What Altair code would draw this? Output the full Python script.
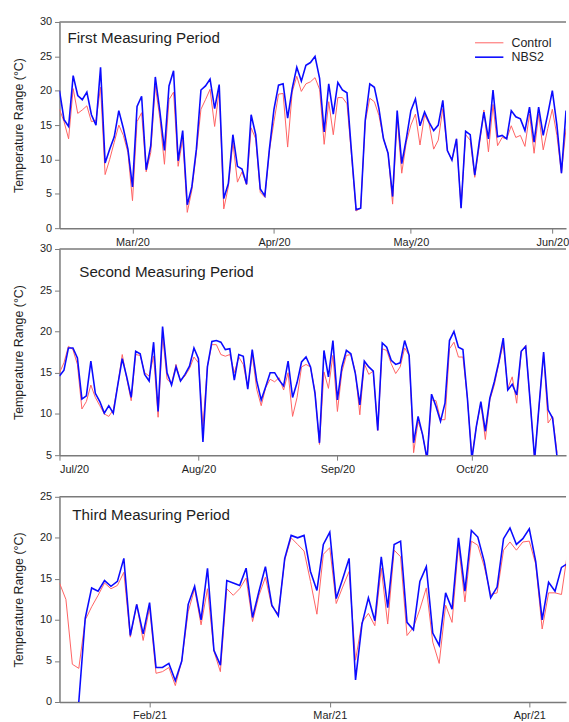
import altair as alt
import pandas as pd

SERIES = ["Control", "NBS2"]
SERIES_COLORS = ["#ff6262", "#0b0bff"]
SERIES_WIDTHS = [1.0, 1.6]

FONT = "Liberation Sans"
TEXT = "#1e1e1e"
FRAME = "#7a7a7a"
PLOT_W = 511

# First measuring period: daily temperature range from 14 Feb 2020
first_start = "2020-02-14"
first_control = [
    17.3, 15.5, 13.0, 20.3, 16.7, 17.2, 17.8, 15.5, 15.7, 20.5,
    7.8, 10.0, 12.5, 15.0, 13.5, 11.0, 4.0, 15.5, 16.8, 8.2,
    11.0, 20.7, 16.0, 9.3, 18.7, 19.8, 9.0, 13.0, 2.3, 5.5,
    11.0, 17.3, 18.7, 20.2, 14.8, 20.0, 2.8, 6.0, 12.5, 6.7,
    8.2, 6.3, 14.6, 13.0, 5.2, 4.5, 11.3, 15.5, 19.5, 19.6,
    11.8, 19.8, 22.1, 19.9, 21.0, 21.3, 21.9, 20.2, 12.2, 18.4,
    13.6, 19.0, 19.0, 18.1, 10.5, 2.5, 2.9, 15.4, 18.9, 18.4,
    16.4, 13.0, 10.9, 3.5, 16.0, 8.0, 12.5, 15.0, 16.6, 12.1,
    16.5, 15.2, 11.5, 12.8, 17.4, 11.3, 9.9, 13.0, 3.0, 13.6,
    12.8, 7.4, 12.0, 17.2, 11.1, 18.0, 12.0, 13.2, 13.0, 14.9,
    13.2, 13.5, 11.9, 16.6, 10.9, 16.6, 11.4, 14.5, 17.3, 13.5,
    8.0, 14.5,
]
first_nbs2 = [
    20.0, 15.8, 14.8, 22.2, 19.3, 18.7, 19.8, 16.5, 15.0, 23.4,
    9.5, 11.5, 13.3, 17.1, 14.5, 11.5, 6.0, 17.7, 19.2, 8.5,
    12.0, 22.0, 17.0, 11.3, 20.7, 22.9, 9.8, 14.2, 3.4, 6.0,
    11.5, 20.1, 20.7, 21.7, 17.4, 20.9, 4.3, 6.5, 13.6, 9.0,
    8.6, 6.4, 16.5, 13.6, 5.7, 4.7, 11.5, 17.3, 20.8, 21.0,
    16.0, 20.3, 23.4, 21.4, 23.7, 24.1, 25.0, 21.8, 14.0, 21.0,
    16.6, 21.2, 20.1, 19.7, 11.0, 2.7, 2.9, 15.7, 21.0, 20.5,
    17.4, 13.0, 10.9, 4.6, 17.1, 9.4, 13.0, 17.1, 18.8, 14.9,
    16.9, 15.4, 14.2, 15.0, 18.6, 11.3, 9.9, 13.0, 2.9, 14.1,
    13.6, 7.7, 12.6, 16.9, 13.0, 20.1, 13.3, 13.5, 13.0, 17.1,
    16.2, 15.9, 14.2, 17.6, 12.5, 17.6, 13.5, 16.6, 20.0, 15.0,
    8.0, 17.1,
]
first_ticks = ["2020-03-01", "2020-04-01", "2020-05-01", "2020-06-01"]
first_domain = ["2020-02-14", "2020-06-04"]

# Second measuring period: daily from 1 Jul 2020
second_start = "2020-07-01"
second_control = [
    15.0, 16.2, 18.2, 17.8, 16.0, 10.6, 11.5, 13.5, 12.0, 11.0,
    10.0, 9.7, 10.5, 13.5, 17.2, 14.3, 11.6, 17.2, 17.1, 15.0,
    14.6, 17.0, 9.6, 19.5, 14.2, 13.7, 16.0, 14.0, 14.6, 15.5,
    16.9, 16.2, 8.5, 15.8, 18.4, 18.4, 17.2, 17.0, 17.2, 15.0,
    16.9, 16.0, 13.2, 17.2, 13.0, 11.0, 13.2, 14.2, 13.9, 14.4,
    12.9, 15.0, 9.7, 12.0, 15.7, 16.0, 15.7, 12.7, 6.3, 15.1,
    13.1, 17.1, 10.3, 15.1, 17.1, 17.2, 15.1, 9.9, 16.1, 14.8,
    15.2, 8.0, 17.9, 17.7, 16.1, 14.9, 15.7, 18.0, 17.1, 5.3,
    9.1, 7.5, 4.5, 11.7, 11.6, 9.3, 9.3, 17.9, 18.7, 16.9,
    16.9, 11.9, 4.8, 8.5, 11.3, 6.9, 11.7, 13.5, 16.1, 18.5,
    13.1, 14.5, 11.3, 17.5, 18.3, 11.5, 4.5, 11.1, 17.3, 8.9,
    9.7, 5.3,
]
second_nbs2 = [
    14.6, 15.3, 18.0, 18.0, 16.8, 11.8, 12.2, 16.4, 12.5, 11.5,
    10.1, 11.0, 10.1, 13.5, 16.7, 14.5, 12.0, 17.6, 17.3, 14.8,
    14.0, 18.7, 10.3, 20.6, 15.0, 13.5, 15.7, 14.0, 14.8, 15.8,
    18.0, 16.7, 6.6, 15.7, 18.8, 18.9, 18.7, 17.8, 17.9, 14.1,
    17.2, 17.0, 13.0, 17.8, 14.0, 11.7, 13.3, 15.0, 15.0, 14.1,
    13.4, 16.4, 12.0, 13.8, 16.3, 16.9, 15.7, 12.5, 6.5, 17.7,
    14.5, 18.9, 11.7, 15.7, 17.7, 17.3, 14.9, 11.1, 16.4, 15.7,
    15.2, 8.0, 18.6, 18.1, 16.5, 16.0, 16.2, 18.9, 17.1, 6.5,
    9.7, 7.5, 4.5, 12.4, 10.9, 9.1, 11.3, 18.9, 20.0, 18.1,
    17.8, 11.9, 4.5, 8.5, 11.5, 7.9, 11.9, 13.9, 16.3, 19.2,
    12.9, 13.6, 12.3, 17.6, 18.2, 11.5, 4.5, 11.1, 17.5, 10.5,
    9.5, 4.8,
]
second_ticks = ["2020-07-01", "2020-08-01", "2020-09-01", "2020-10-01"]
second_domain = ["2020-07-01", "2020-10-22"]

# Third measuring period: daily from 18 Jan 2021 (NBS2 logging starts on 21 Jan)
third_start = "2021-01-18"
third_control = [
    14.5, 12.5, 4.6, 4.1, 10.0, 11.6, 13.0, 14.5, 13.8, 14.2,
    15.8, 7.9, 11.9, 7.5, 11.5, 3.5, 3.7, 4.2, 2.0, 5.0,
    11.0, 13.8, 9.4, 13.8, 6.2, 3.7, 13.8, 13.0, 13.8, 15.1,
    9.8, 13.0, 15.2, 11.6, 10.8, 17.3, 20.0, 19.2, 18.4, 14.7,
    10.7, 18.0, 18.8, 12.0, 14.0, 15.9, 5.1, 9.7, 10.8, 9.3,
    16.3, 9.5, 18.5, 17.7, 8.1, 9.1, 11.3, 13.9, 7.3, 4.7,
    11.8, 9.7, 19.1, 12.2, 19.6, 19.1, 16.5, 13.1, 13.3, 18.5,
    19.5, 18.5, 19.5, 19.6, 16.8, 8.9, 13.3, 13.3, 13.1, 18.5,
]
third_nbs2 = [
    None, None, None, 0.0, 10.2, 13.9, 13.5, 14.8, 14.1, 14.7,
    17.5, 8.1, 11.9, 8.3, 12.1, 4.2, 4.2, 4.7, 2.6, 5.0,
    11.9, 14.1, 10.0, 16.3, 6.3, 4.5, 14.8, 14.5, 14.2, 16.3,
    10.3, 13.5, 16.5, 11.8, 10.5, 17.5, 20.3, 20.0, 20.3, 15.9,
    13.6, 19.2, 20.7, 12.6, 15.0, 17.5, 2.7, 9.5, 12.7, 9.9,
    17.7, 11.5, 19.2, 19.6, 9.7, 8.8, 14.7, 16.5, 8.4, 6.9,
    13.3, 11.3, 20.0, 13.5, 20.9, 20.1, 17.1, 12.7, 14.0, 19.9,
    21.2, 19.2, 19.9, 21.1, 17.1, 10.0, 14.6, 13.5, 16.4, 16.9,
]
third_ticks = ["2021-02-01", "2021-03-01", "2021-04-01"]
third_domain = ["2021-01-18", "2021-04-06T17:00:00"]

Y_TITLE = "Temperature Range (°C)"


def as_datetime(stamp):
    ts = pd.Timestamp(stamp)
    return alt.DateTime(year=ts.year, month=ts.month, date=ts.day,
                        hours=ts.hour, minutes=ts.minute)


def series_frame(start, control, nbs2):
    dates = list(pd.date_range(start, periods=len(control), freq="D"))
    return pd.DataFrame({
        "date": dates * 2,
        "series": ["Control"] * len(control) + ["NBS2"] * len(nbs2),
        "value": list(control) + list(nbs2),
    })


def panel(start, control, nbs2, ticks, domain, y_min, y_max, height,
          label, label_x, label_y, with_legend):
    df = series_frame(start, control, nbs2)
    if with_legend:
        legend = alt.Legend(
            orient="none", legendX=426, legendY=14, title=None,
            symbolType="M-2.2,0H2.2", symbolSize=169, symbolStrokeWidth=1.5,
            labelFont=FONT, labelFontSize=12.5, labelColor=TEXT,
            labelOffset=15, rowPadding=-1, padding=0,
        )
    else:
        legend = None

    lines = alt.Chart(df).mark_line(clip=True).encode(
        x=alt.X(
            "date:T",
            scale=alt.Scale(domain=[as_datetime(d) for d in domain]),
            axis=alt.Axis(values=[as_datetime(t) for t in ticks],
                          format="%b/%y", title=None, labelPadding=3),
        ),
        y=alt.Y(
            "value:Q",
            scale=alt.Scale(domain=[y_min, y_max], nice=False, zero=False),
            axis=alt.Axis(values=list(range(y_min, y_max + 1, 5)),
                          title=Y_TITLE, labelPadding=3, titlePadding=14),
        ),
        color=alt.Color("series:N",
                        scale=alt.Scale(domain=SERIES, range=SERIES_COLORS),
                        legend=legend),
        strokeWidth=alt.StrokeWidth("series:N",
                                    scale=alt.Scale(domain=SERIES, range=SERIES_WIDTHS),
                                    legend=None),
    )

    top_edge = alt.Chart(pd.DataFrame({"edge": ["top"]})).mark_rule(
        color=FRAME, strokeWidth=1.5
    ).encode(x=alt.value(0), x2=alt.value(PLOT_W), y=alt.value(0))

    title = alt.Chart(pd.DataFrame({"label": [label]})).mark_text(
        align="left", baseline="middle", font=FONT, fontSize=15.3, color=TEXT
    ).encode(text="label:N", x=alt.value(label_x), y=alt.value(label_y))

    return alt.layer(lines, top_edge, title).properties(width=PLOT_W, height=height)


first = panel(first_start, first_control, first_nbs2, first_ticks, first_domain,
              0, 30, 208, "First Measuring Period", 8, 16, True)
second = panel(second_start, second_control, second_nbs2, second_ticks, second_domain,
               5, 30, 208, "Second Measuring Period", 20, 23, False)
third = panel(third_start, third_control, third_nbs2, third_ticks, third_domain,
              0, 25, 207, "Third Measuring Period", 13, 18, False)

independent = dict(x="independent", y="independent",
                   color="independent", strokeWidth="independent")

upper = alt.vconcat(first, second, spacing=-4).resolve_scale(**independent)
chart = (
    alt.vconcat(upper, third, spacing=17)
    .resolve_scale(**independent)
    .properties(padding={"left": 12, "top": 13, "right": 0, "bottom": 0})
    .configure_view(stroke=None)
    .configure_axis(
        grid=False,
        domainColor=FRAME, domainWidth=1.5,
        tickColor=FRAME, tickWidth=1, tickSize=5,
        labelFont=FONT, labelFontSize=11, labelColor=TEXT,
        titleFont=FONT, titleFontSize=12.5, titleFontWeight="normal", titleColor=TEXT,
    )
)

chart.save("out.html", embed_options={"renderer": "svg", "actions": False})
